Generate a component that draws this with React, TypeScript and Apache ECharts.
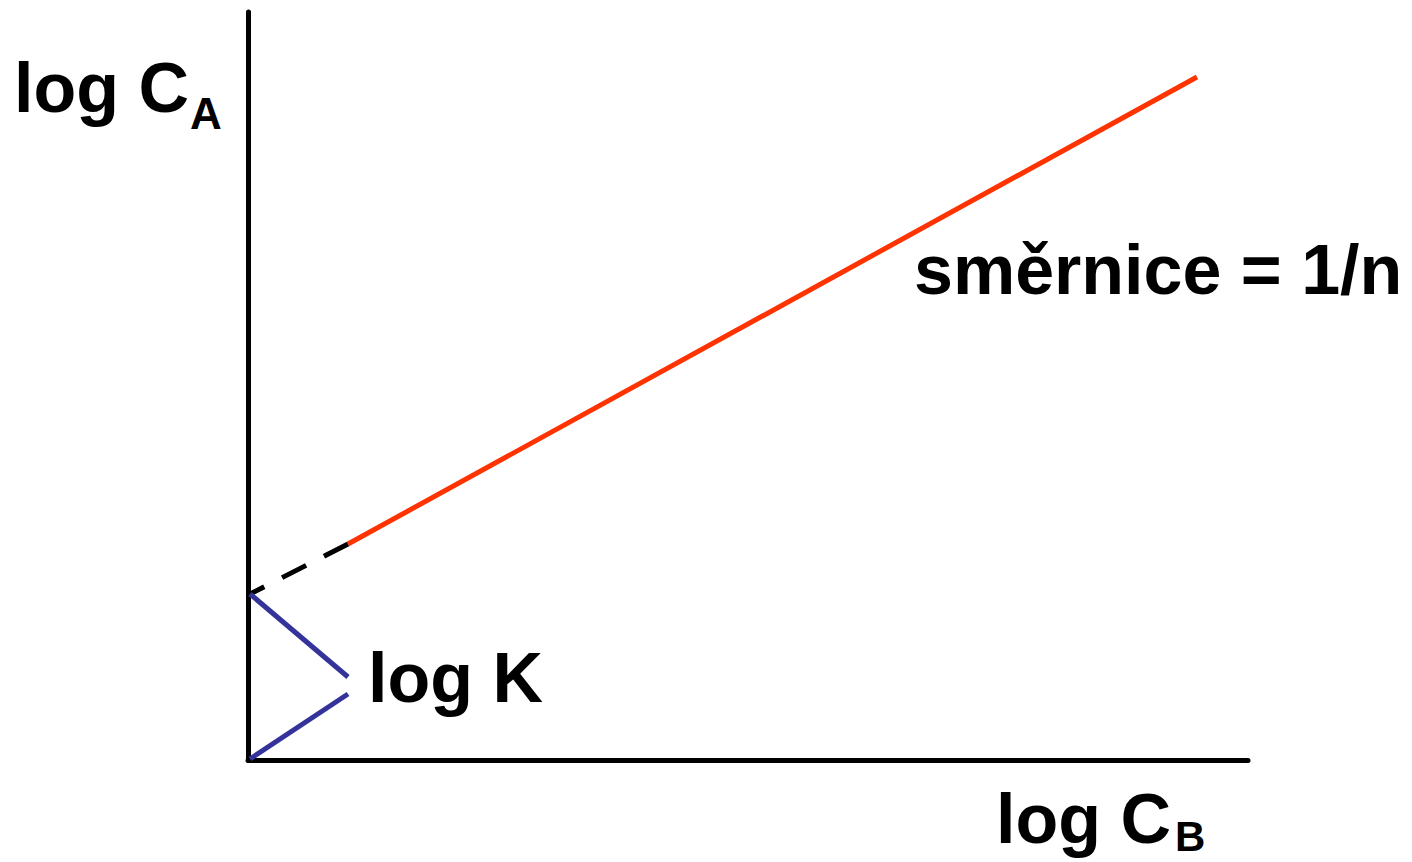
import React, { useEffect, useRef } from "react";
import * as echarts from "echarts";

// Data (schematic Freundlich isotherm, log–log)
const fitLine: [number, number][] = [
  [1.0, 2.16],
  [9.49, 6.83],
];
const extrapolation: [number, number][] = [
  [1.0, 2.16],
  [0.02, 1.66],
];
const bracketUpper: [number, number][] = [
  [0.02, 1.66],
  [1.0, 0.83],
];
const bracketLower: [number, number][] = [
  [0.02, 0.01],
  [1.0, 0.66],
];
const labels = {
  yAxis: "log C",
  ySub: "A",
  xAxis: "log C",
  xSub: "B",
  slope: "směrnice = 1/n",
  intercept: "log K",
};

const FONT = '"Liberation Sans", Arial, Helvetica, sans-serif';

export default function App() {
  const ref = useRef<HTMLDivElement>(null);
  useEffect(() => {
    if (!ref.current) return;
    const chart = echarts.init(ref.current, undefined, { renderer: "svg" });
    const txt = (x: number, y: number, text: string, size: number) => ({
      type: "text",
      x,
      y,
      style: {
        text,
        fontFamily: FONT,
        fontWeight: "bold",
        fontSize: size,
        fill: "#000",
        textAlign: "left",
        textVerticalAlign: "middle",
      },
    });
    chart.setOption({
      animation: false,
      backgroundColor: "#fff",
      grid: { left: 248, right: 164, top: 12, bottom: 102 },
      xAxis: {
        type: "value",
        min: 0,
        max: 10,
        axisLine: { show: true, onZero: false, lineStyle: { color: "#000", width: 5 } },
        axisTick: { show: false },
        axisLabel: { show: false },
        splitLine: { show: false },
      },
      yAxis: {
        type: "value",
        min: 0,
        max: 7.48,
        axisLine: { show: true, onZero: false, lineStyle: { color: "#000", width: 5 } },
        axisTick: { show: false },
        axisLabel: { show: false },
        splitLine: { show: false },
      },
      series: [
        {
          type: "line",
          data: fitLine,
          symbol: "none",
          lineStyle: { color: "#FF3300", width: 5 },
        },
        {
          type: "line",
          data: extrapolation,
          symbol: "none",
          lineStyle: { color: "#000", width: 5, type: [27, 20] },
        },
        {
          type: "line",
          data: bracketUpper,
          symbol: "none",
          lineStyle: { color: "#333399", width: 5 },
        },
        {
          type: "line",
          data: bracketLower,
          symbol: "none",
          lineStyle: { color: "#333399", width: 5 },
        },
      ],
      graphic: [
        txt(14, 87.5, labels.yAxis, 70),
        txt(190, 113, labels.ySub, 44),
        txt(996, 819, labels.xAxis, 70),
        txt(1175, 836, labels.xSub, 42),
        txt(914, 270, labels.slope, 70),
        txt(368, 677.5, labels.intercept, 70),
      ],
    });
    return () => chart.dispose();
  }, []);
  return (
    <div
      ref={ref}
      style={{ position: "fixed", left: 0, top: 0, width: 1412, height: 862 }}
    />
  );
}
